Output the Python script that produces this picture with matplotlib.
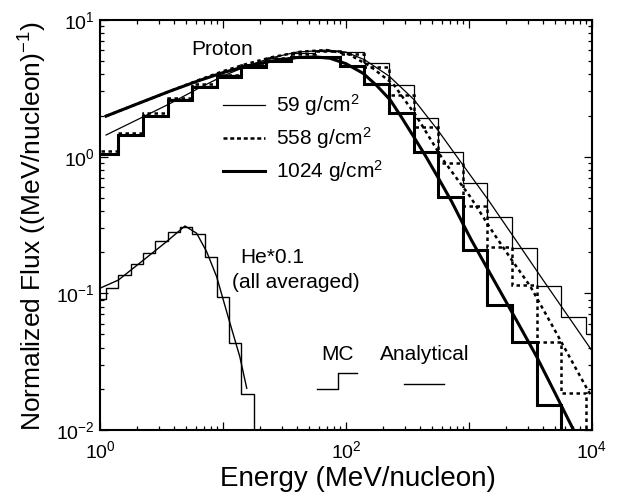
import matplotlib
matplotlib.use("Agg")
import matplotlib.pyplot as plt
from matplotlib.ticker import FixedLocator, FixedFormatter, LogLocator, NullFormatter

plt.rcParams['font.family'] = ['Liberation Sans', 'DejaVu Sans']
plt.rcParams['mathtext.fontset'] = 'custom'
plt.rcParams['mathtext.rm'] = 'Liberation Sans'
plt.rcParams['mathtext.it'] = 'Liberation Sans:italic'
plt.rcParams['mathtext.default'] = 'regular'
plt.rcParams['axes.unicode_minus'] = False

# proton MC histograms (bin edges in MeV/nucleon)
p_edges = [0.891, 1.41, 2.24, 3.55, 5.62, 8.91, 14.1, 22.4, 35.5, 56.2, 89.1,
           141, 224, 355, 562, 891, 1413, 2239, 3548, 5623, 8913, 14125]
p59_mc = [1.05, 1.45, 2.00, 2.63, 3.31, 3.98, 4.68, 5.25, 5.69, 5.96, 5.86,
          4.82, 3.34, 1.91, 1.09, 0.638, 0.360, 0.215, 0.114, 0.0671, 0.0504]
p558_mc = [1.10, 1.50, 2.07, 2.69, 3.39, 3.98, 4.68, 5.25, 5.62, 5.89, 5.62,
           4.55, 2.82, 1.66, 0.893, 0.436, 0.219, 0.115, 0.0443, 0.0186, 0.001]
p1024_mc = [1.05, 1.44, 1.98, 2.60, 3.25, 3.80, 4.52, 5.01, 5.32, 5.37, 4.57,
            3.39, 2.08, 1.09, 0.509, 0.207, 0.0822, 0.0443, 0.0152, 0.001, 0.001]

# proton analytical curves
p59_e = [1.12, 2.0, 3.72, 6.31, 10, 15.8, 25.1, 39.8, 70.8, 100, 141, 224, 355,
         562, 891, 1435, 2239, 3981, 6310, 10000]
p59_f = [1.44, 1.86, 2.45, 3.16, 3.89, 4.62, 5.31, 5.82, 6.03, 5.82, 5.13, 3.89,
         2.63, 1.55, 0.871, 0.482, 0.269, 0.126, 0.0692, 0.0380]
p558_e = [1.12, 2.0, 3.72, 6.31, 10, 15.8, 25.1, 42.7, 69.2, 105, 158, 243, 376,
          617, 1023, 1585, 2138, 3162, 5129, 9120, 10000]
p558_f = [1.98, 2.43, 3.02, 3.63, 4.22, 4.79, 5.35, 5.86, 6.03, 5.62, 4.57, 3.39,
          1.96, 0.946, 0.509, 0.275, 0.185, 0.112, 0.0513, 0.0200, 0.0174]
p1024_e = [1.12, 2.0, 3.72, 6.31, 10, 15.8, 25.1, 39.8, 56.2, 74.1, 100, 138, 178,
           229, 282, 355, 447, 575, 724, 891, 1047, 1585, 2512, 3548, 5012, 7079, 7943]
p1024_f = [1.98, 2.43, 3.02, 3.59, 4.12, 4.62, 5.01, 5.31, 5.37, 5.25, 4.79, 4.07,
           3.31, 2.60, 1.95, 1.40, 1.00, 0.676, 0.468, 0.324, 0.245, 0.126, 0.0603,
           0.0344, 0.0186, 0.0100, 0.0081]

# helium (x0.1, all depths averaged)
he_edges = [0.891, 1.122, 1.413, 1.778, 2.239, 2.818, 3.548, 4.467, 5.623, 7.079,
            8.913, 11.22, 14.13, 17.78, 22.39]
he_mc = [0.0904, 0.109, 0.136, 0.164, 0.198, 0.242, 0.282, 0.304, 0.272, 0.184,
         0.0944, 0.0431, 0.0183, 0.0001]
he_e = [1.0, 1.41, 2.22, 3.48, 4.91, 6.11, 7.36, 8.89, 11.0, 13.7, 15.6]
he_f = [0.109, 0.125, 0.173, 0.239, 0.311, 0.275, 0.202, 0.132, 0.0675, 0.0344, 0.0202]

dots = (0, (1.4, 1.4))

fig = plt.figure(figsize=(6.32, 4.99), dpi=100)
ax = fig.add_axes([0.1582, 0.1383, 0.7785, 0.8216])
ax.set_xscale('log')
ax.set_yscale('log')

ax.stairs(p59_mc, p_edges, baseline=None, color='k', lw=0.9)
ax.stairs(p558_mc, p_edges, baseline=None, color='k', lw=1.8, ls=dots)
ax.stairs(p1024_mc, p_edges, baseline=None, color='k', lw=2.2)
ax.plot(p59_e, p59_f, color='k', lw=0.9)
ax.plot(p558_e, p558_f, color='k', lw=1.8, ls=dots)
ax.plot(p1024_e, p1024_f, color='k', lw=2.2)

ax.stairs(he_mc, he_edges, baseline=None, color='k', lw=1.0)
ax.plot(he_e, he_f, color='k', lw=1.0)

ax.set_xlim(1, 1e4)
ax.set_ylim(1e-2, 10)

ax.xaxis.set_major_locator(FixedLocator([1, 10, 100, 1000, 10000]))
ax.xaxis.set_major_formatter(FixedFormatter(['$10^{0}$', '', '$10^{2}$', '', '$10^{4}$']))
ax.xaxis.set_minor_locator(LogLocator(base=10, subs=range(2, 10)))
ax.xaxis.set_minor_formatter(NullFormatter())
ax.yaxis.set_major_locator(FixedLocator([0.01, 0.1, 1, 10]))
ax.yaxis.set_major_formatter(FixedFormatter(['$10^{-2}$', '$10^{-1}$', '$10^{0}$', '$10^{1}$']))
ax.yaxis.set_minor_locator(LogLocator(base=10, subs=range(2, 10)))
ax.yaxis.set_minor_formatter(NullFormatter())

ax.tick_params(which='both', direction='in', top=True, right=True, width=0.9, labelsize=14)
ax.tick_params(which='major', length=6)
ax.tick_params(which='minor', length=3)
ax.tick_params(axis='x', pad=7)
for s in ax.spines.values():
    s.set_linewidth(1.5)

# annotations / hand-made legend
tr = ax.transAxes
ax.text(0.248, 0.927, 'Proton', transform=tr, ha='center', va='center', fontsize=15)
ax.plot([0.25, 0.335], [0.793, 0.793], transform=tr, color='k', lw=0.9)
ax.plot([0.25, 0.335], [0.712, 0.712], transform=tr, color='k', lw=1.8, ls=(0, (1.6, 1.1)))
ax.plot([0.25, 0.335], [0.632, 0.632], transform=tr, color='k', lw=2.2)
ax.text(0.358, 0.793, '59 g/cm$^2$', transform=tr, va='center', fontsize=15)
ax.text(0.358, 0.712, '558 g/cm$^2$', transform=tr, va='center', fontsize=15)
ax.text(0.358, 0.632, '1024 g/cm$^2$', transform=tr, va='center', fontsize=15)

ax.text(0.285, 0.42, 'He*0.1', transform=tr, va='center', fontsize=15)
ax.text(0.268, 0.36, '(all averaged)', transform=tr, va='center', fontsize=15)

ax.text(0.482, 0.183, 'MC', transform=tr, ha='center', va='center', fontsize=15)
ax.text(0.659, 0.185, 'Analytical', transform=tr, ha='center', va='center', fontsize=15)
ax.plot([0.441, 0.484, 0.484, 0.522], [0.100, 0.100, 0.139, 0.139], transform=tr,
        color='k', lw=1.0)
ax.plot([0.618, 0.699], [0.112, 0.112], transform=tr, color='k', lw=1.0)

fig.text(358 / 632, 1 - 479 / 499, 'Energy (MeV/nucleon)', ha='center', va='center',
         fontsize=20)
fig.text(33 / 632, 1 - 226 / 499, 'Normalized Flux ((MeV/nucleon)$^{-1}$)',
         ha='center', va='center', rotation=90, fontsize=19)

fig.savefig('out.png', dpi=100)
